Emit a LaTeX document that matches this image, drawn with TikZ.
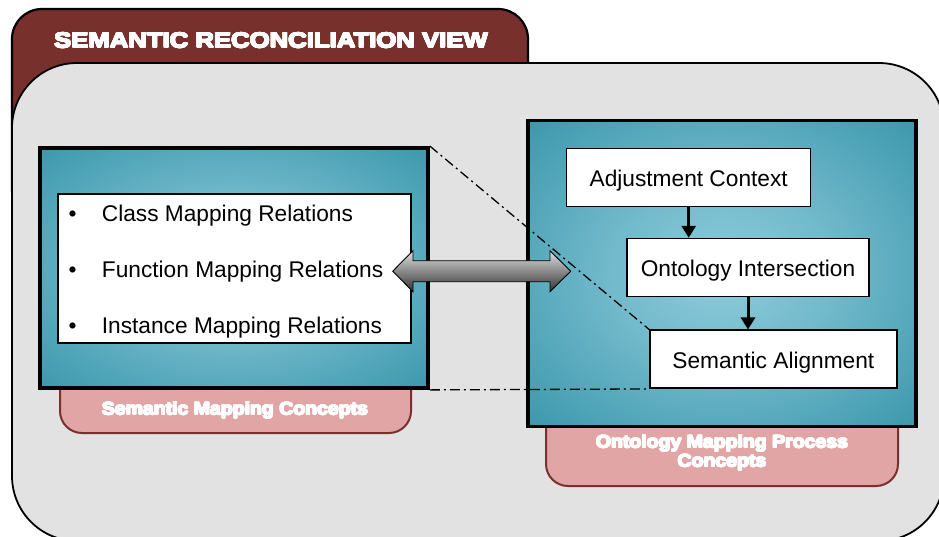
\documentclass[tikz,border=0pt]{standalone}
\usepackage{fontspec}
\setmainfont{Liberation Sans}
\usepackage{xcolor}
\usepackage{contour}
\contourlength{0.55pt}
\contournumber{16}
\usetikzlibrary{arrows.meta,calc,positioning}

\definecolor{viewred}{HTML}{77302C}
\definecolor{tagpink}{HTML}{E2A5A5}
\definecolor{tagborder}{HTML}{7A302C}
\definecolor{panellight}{HTML}{E2E2E2}
\definecolor{paneldark}{HTML}{CDCDCD}
\pgfdeclareradialshading{tealglow}{\pgfpoint{0bp}{0bp}}{rgb(0bp)=(0.56,0.80,0.86); rgb(14bp)=(0.45,0.73,0.80); rgb(36bp)=(0.231,0.592,0.671); rgb(100bp)=(0.231,0.592,0.671)}
\newcommand{\heavy}[1]{\contour{white}{#1}}

\begin{document}
\begin{tikzpicture}[x=1pt,y=-1pt,
 conceptbox/.style={draw=black, line width=3.8pt, shading=tealglow, inner sep=0pt},
 whitebox/.style={draw=black, line width=1.5pt, fill=white, inner sep=0pt,
   text height=18.6pt, text depth=0pt, font=\fontsize{22.7}{26}\selectfont},
 itemtext/.style={anchor=base west, inner sep=0pt, font=\fontsize{22.7}{26}\selectfont},
 tagbox/.style={draw=tagborder, line width=2pt, fill=tagpink, rounded corners=22pt},
 tagtext/.style={text=white, font=\bfseries\fontsize{17.7}{19}\selectfont, xscale=1.1, align=center},
 linkline/.style={line width=1.3pt, dash pattern=on 10pt off 4pt on 2pt off 4pt},
 flow/.style={line width=3pt, -{Triangle[width=14pt,length=12pt]}}]
\useasboundingbox (0,0) rectangle (939,536);
\clip (0,0) rectangle (939,536);

% View tab and panel
\draw[fill=viewred, line width=2.2pt, rounded corners=30pt] (12,9) rectangle (528,220);
\node[text=white, font=\bfseries\fontsize{21.6}{24}\selectfont, xscale=1.19] (title) at (271,40.5) {\heavy{SEMANTIC RECONCILIATION VIEW}};
\draw[line width=1.8pt, rounded corners=65pt, top color=panellight, middle color=paneldark, bottom color=panellight] (12,63) rectangle (944,541);

% Concept tags
\draw[tagbox] (60,370) -- (60,433) -- (411,433) -- (411,370);
\draw[tagbox] (546,400) -- (546,486) -- (898,486) -- (898,400);

% Concept boxes
\node[conceptbox, minimum width=388pt, minimum height=240pt] (semantic) at (234,268) {};
\node[conceptbox, minimum width=388pt, minimum height=306pt] (process) at (722,273.5) {};
\node[tagtext] (semlabel) at (235,410.4) {\heavy{Semantic Mapping Concepts}};
\node[tagtext] (proclabel) at (722,453) {\heavy{Ontology Mapping Process}\\\heavy{Concepts}};

% Mapping relations
\node[whitebox, minimum width=353pt, minimum height=149pt] (relations) at (234.5,268.5) {};
\foreach \rel [count=\i] in {Class Mapping Relations, Function Mapping Relations, Instance Mapping Relations}
 \node[itemtext] (rel\i) at (68.3,{221.7+55.8*(\i-1)}) {\makebox[33.4pt][l]{\textbullet}\rel};

% Process steps
\node[whitebox, minimum width=244pt, minimum height=58pt] (adjust) at (688.7,177.5) {Adjustment Context};
\node[whitebox, minimum width=242pt, minimum height=58pt] (intersect) at (748,267.5) {Ontology Intersection};
\node[whitebox, minimum width=247pt, minimum height=58pt] (align) at (773.4,359.2) {Semantic Alignment};
\draw[flow] (adjust.south) -- (adjust.south |- intersect.north);
\draw[flow] (intersect.south) -- (intersect.south |- align.north);

% Double arrow
\draw[line width=0.9pt, top color=gray!25, bottom color=black!80]
 (392.7,271.2) -- (413,250.7) -- (413,260.7) -- (550,260.7) -- (550,250.7) -- (570.7,271.2)
 -- (550,291.7) -- (550,281.7) -- (413,281.7) -- (413,291.7) -- cycle;

% Links
\draw[linkline] (semantic.north east) -- (align.north west);
\draw[linkline] (semantic.south east) -- (align.south west);
\end{tikzpicture}
\end{document}
